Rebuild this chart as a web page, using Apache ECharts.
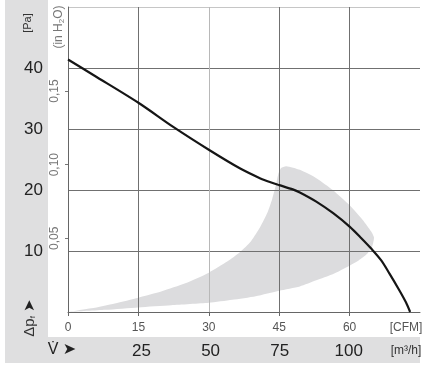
<!DOCTYPE html>
<html>
<head>
<meta charset="utf-8">
<script src="https://cdn.jsdelivr.net/npm/echarts@6/dist/echarts.min.js"></script>
<style>
html,body{margin:0;padding:0;background:#fff;}
#c{width:427px;height:370px;}
</style>
</head>
<body>
<div id="c"></div>
<script>
// ---- data ----
var curveCFM = [0, 5.4, 15, 22.5, 30, 36.6, 41, 43, 45, 47.9, 49.4, 52.9, 56.5, 60, 62.5, 64.6, 66.7, 68.5, 70.5, 72, 72.9];
var curvePa  = [41.4, 38.85, 34.3, 30.3, 26.6, 23.56, 21.9, 21.3, 20.8, 20.1, 19.6, 18.1, 16.2, 14.0, 12.1, 10.4, 8.5, 6.3, 3.7, 1.6, 0];

var bandCFM = [0, 5, 10, 15, 20, 25, 30, 34, 36.6, 39, 41, 42.5, 43.5, 44.3, 44.8, 45.4, 46.5, 49.4, 53, 56.4, 60, 62.8, 64.6, 65.2, 64.8, 63.7, 62, 60, 56.4, 52.9, 49.4, 45, 40, 35, 30, 22, 15, 8, 0];
var bandPa  = [0, 0.6, 1.4, 2.35, 3.4, 4.7, 6.45, 8.3, 9.8, 11.6, 14, 16.3, 18.5, 20.8, 22.6, 23.6, 23.9, 23.3, 21.9, 20.0, 17.5, 15.1, 13.2, 12.2, 10.7, 9.5, 8.5, 7.6, 6.2, 5.2, 4.2, 3.5, 2.6, 2.0, 1.5, 1.1, 0.75, 0.35, 0];

var paTicks   = [10, 20, 30, 40];
var inH2OTicks = [0.05, 0.10, 0.15];
var cfmTicks  = [0, 15, 30, 45, 60];
var m3hTicks  = [25, 50, 75, 100];

var CFM_MAX = 75, PA_MAX = 50, INH2O_MAX = 0.207, M3H_PER_CFM = 1.699;

var curveData = curveCFM.map(function (x, i) { return [x, curvePa[i]]; });
var bandData = bandCFM.map(function (x, i) { return [x, bandPa[i]]; });

var FONT = '"Liberation Sans", Arial, Helvetica, sans-serif';
var GRID = '#707070';

var chart = echarts.init(document.getElementById('c'), null, {renderer: 'canvas'});
chart.setOption({
  animation: false,
  backgroundColor: '#ffffff',
  textStyle: {fontFamily: FONT},
  grid: {left: 68, right: 7, top: 7, bottom: 58, containLabel: false},
  xAxis: [
    {
      type: 'value', min: 0, max: CFM_MAX, interval: 15, position: 'bottom',
      axisLine: {show: true, onZero: false, lineStyle: {color: '#666', width: 1}},
      axisTick: {show: true, length: 4, inside: false, customValues: cfmTicks, lineStyle: {color: '#666'}},
      axisLabel: {customValues: cfmTicks, color: '#555', fontSize: 12, margin: 10, fontFamily: FONT},
      splitLine: {show: true, lineStyle: {color: [GRID, GRID, '#b8b8b8', GRID, GRID, GRID], width: 1}}
    },
    {
      type: 'value', min: 0, max: CFM_MAX * M3H_PER_CFM, position: 'bottom', offset: 30,
      axisLine: {show: false}, axisTick: {show: false}, splitLine: {show: false},
      axisLabel: {customValues: m3hTicks, color: '#222', fontSize: 17, margin: 1, padding: [0, 0, 0, 9], fontFamily: FONT}
    }
  ],
  yAxis: [
    {
      type: 'value', min: 0, max: PA_MAX, interval: 10, position: 'left',
      axisLine: {show: true, lineStyle: {color: '#666', width: 1}},
      axisTick: {show: false},
      axisLabel: {customValues: paTicks, color: '#222', fontSize: 17, margin: 25, fontFamily: FONT},
      splitLine: {show: true, lineStyle: {color: [GRID, GRID, GRID, GRID, GRID, '#c6c6c6'], width: 1}}
    },
    {
      type: 'value', min: 0, max: INH2O_MAX, interval: 0.05, position: 'left', offset: 0,
      axisLine: {show: false},
      axisTick: {show: true, length: 3, customValues: inH2OTicks, lineStyle: {color: '#777'}},
      axisLabel: {customValues: inH2OTicks, rotate: 90, color: '#777', fontSize: 12, margin: 7, fontFamily: FONT,
        formatter: function (v) { return v.toFixed(2).replace('.', ','); }},
      splitLine: {show: false}
    }
  ],
  graphic: [
    {type: 'rect', z: -10, shape: {x: 5, y: 0, width: 43, height: 363}, style: {fill: '#dfdfe0'}},
    {type: 'rect', z: -10, shape: {x: 5, y: 337, width: 415, height: 26}, style: {fill: '#dfdfe0'}},
    {type: 'text', x: 28, y: 23, rotation: Math.PI / 2,
      style: {text: '[Pa]', fill: '#333', font: '11px ' + FONT, align: 'center', verticalAlign: 'middle'}},
    {type: 'text', x: 59, y: 27, rotation: Math.PI / 2,
      style: {text: '(in H{s|2}O)', fill: '#777', font: '12px ' + FONT, align: 'center', verticalAlign: 'middle',
        rich: {s: {fontSize: 8, fill: '#777', padding: [5, 0, 0, 0], fontFamily: FONT}}}},
    {type: 'text', x: 30, y: 318, rotation: Math.PI / 2,
      style: {text: 'Δp{s|f} {a|➤}', fill: '#333', font: '15px ' + FONT, align: 'center', verticalAlign: 'middle',
        rich: {s: {fontSize: 8, fill: '#333', padding: [6, 0, 0, 0], fontFamily: FONT},
               a: {fontSize: 15, fill: '#222', fontFamily: 'DejaVu Sans'}}}},
    {type: 'text', x: 62, y: 350,
      style: {text: 'V\u0307 {a|➤}', fill: '#222', font: '16px ' + FONT, align: 'center', verticalAlign: 'middle',
        rich: {a: {fontSize: 16, fill: '#222', fontFamily: 'DejaVu Sans'}}}},
    {type: 'text', x: 406, y: 328,
      style: {text: '[CFM]', fill: '#555', font: '12px ' + FONT, align: 'center', verticalAlign: 'middle'}},
    {type: 'text', x: 406, y: 351,
      style: {text: '[m³/h]', fill: '#333', font: '12px ' + FONT, align: 'center', verticalAlign: 'middle'}}
  ],
  series: [
    {
      type: 'custom', xAxisIndex: 0, yAxisIndex: 0, z: -1, clip: true, silent: true,
      data: bandData,
      encode: {x: 0, y: 1},
      renderItem: function (params, api) {
        if (params.dataIndex !== 0) return null;
        var pts = bandData.map(function (p) { return api.coord(p); });
        return {type: 'polygon', shape: {points: pts, smooth: 0.2}, style: {fill: '#dcdcde', stroke: null}};
      }
    },
    {
      type: 'line', xAxisIndex: 0, yAxisIndex: 0, data: curveData, smooth: 0.3, symbol: 'none',
      lineStyle: {color: '#151515', width: 2.2}, z: 3
    }
  ]
});
</script>
</body>
</html>
